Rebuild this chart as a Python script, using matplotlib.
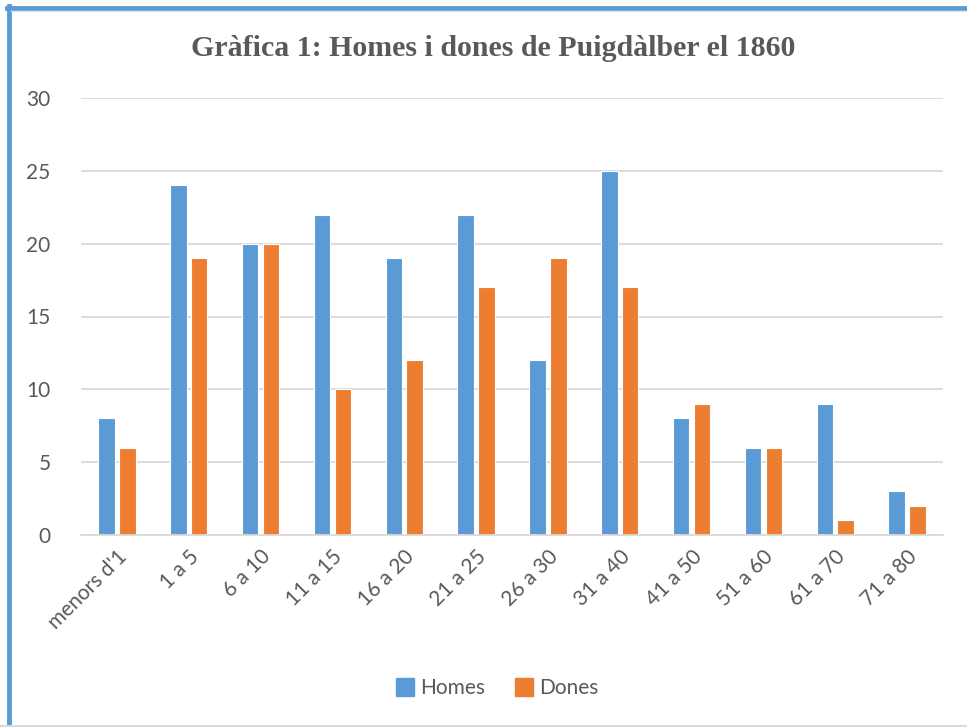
import numpy as np
import matplotlib.pyplot as plt
from matplotlib.lines import Line2D

# dades de la gràfica
categories = ["menors d'1", "1 a 5", "6 a 10", "11 a 15", "16 a 20", "21 a 25",
              "26 a 30", "31 a 40", "41 a 50", "51 a 60", "61 a 70", "71 a 80"]
homes = [8, 24, 20, 22, 19, 22, 12, 25, 8, 6, 9, 3]
dones = [6, 19, 20, 10, 12, 17, 19, 17, 9, 6, 1, 2]

BLUE = '#5B9BD5'
ORANGE = '#ED7D31'
TXT = '#595959'

plt.rcParams['font.family'] = ['Lato', 'DejaVu Sans']

fig = plt.figure(figsize=(9.67, 7.27), dpi=100)
W, H = 967, 727
ax = fig.add_axes([81 / W, 1 - 535 / H, (943 - 81) / W, (535 - 98) / H])

x = np.arange(len(categories))
bw = 0.23
ax.bar(x - 0.145, homes, bw, color=BLUE, edgecolor='white', linewidth=0.8, label='Homes')
ax.bar(x + 0.145, dones, bw, color=ORANGE, edgecolor='white', linewidth=0.8, label='Dones')

ax.set_xlim(-0.5, len(categories) - 0.5)
ax.set_ylim(0, 30)
ax.set_yticks(range(0, 31, 5))
ax.grid(axis='y', color='#D9D9D9', linewidth=1.3)
ax.set_axisbelow(True)
for s in ['top', 'right', 'left']:
    ax.spines[s].set_visible(False)
ax.spines['bottom'].set_color('#D9D9D9')
ax.spines['bottom'].set_linewidth(1.3)
ax.tick_params(length=0, colors=TXT, labelsize=15)
ax.tick_params(axis='y', pad=22)
ax.tick_params(axis='x', pad=8)
ax.set_xticks(x)
ax.set_xticklabels(categories, rotation=45, ha='right', rotation_mode='anchor')
for lbl in ax.get_xticklabels():
    lbl.set_color(TXT)

fig.text(493 / W, 1 - 49 / H, 'Gràfica 1: Homes i dones de Puigdàlber el 1860',
         ha='center', va='center', fontsize=21.5, fontweight='bold',
         family='Liberation Serif', color=TXT)

handles = [Line2D([], [], marker='s', linestyle='none', markersize=13, color=BLUE),
           Line2D([], [], marker='s', linestyle='none', markersize=13, color=ORANGE)]
leg = fig.legend(handles, ['Homes', 'Dones'], loc='center', ncol=2,
                 bbox_to_anchor=(497 / W, 1 - 688 / H), frameon=False, fontsize=15,
                 handlelength=0.9, handletextpad=0.3, columnspacing=1.4)
for t in leg.get_texts():
    t.set_color(TXT)

# marc blau (esquerra i dalt) i línia grisa a baix
fig.add_artist(Line2D([9 / W, 9 / W], [0, 1 - 6 / H], color=BLUE, linewidth=3.5))
fig.add_artist(Line2D([7 / W, 1], [1 - 8 / H, 1 - 8 / H], color=BLUE, linewidth=3.5))
fig.add_artist(Line2D([11 / W, 1], [1 - 11 / H, 1 - 11 / H], color='#DDE7F0', linewidth=1))
fig.add_artist(Line2D([0, 1], [1 - 725.5 / H, 1 - 725.5 / H], color='#D9D9D9', linewidth=1.5))

fig.savefig('out.png', dpi=100)
